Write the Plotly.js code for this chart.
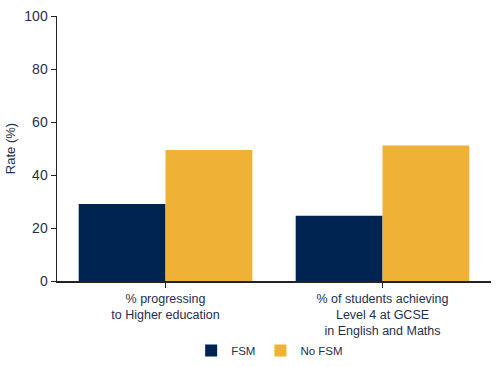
<!DOCTYPE html>
<html><head><meta charset="utf-8">
<script src="https://cdn.plot.ly/plotly-3.0.1.min.js"></script>
<style>html,body{margin:0;padding:0;background:#fff}#c{width:500px;height:367px}</style>
</head><body><div id="c"></div>
<script>
const categories = ["% progressing<br>to Higher education", "% of students achieving<br>Level 4 at GCSE<br>in English and Maths"];
const fsm = [29.1, 24.6];
const noFsm = [49.4, 51.1];
const seriesNames = ["FSM", "No FSM"];
const yTicks = [0, 20, 40, 60, 80, 100];
const txt = "#1e2f4f";
const data = [
  {type:"bar", name:seriesNames[0], x:categories, y:fsm, marker:{color:"#002452"}},
  {type:"bar", name:seriesNames[1], x:categories, y:noFsm, marker:{color:"#EFB236"}}
];
const layout = {
  width:500, height:367,
  margin:{l:57, r:9, t:16, b:86, autoexpand:false},
  paper_bgcolor:"#fff", plot_bgcolor:"#fff",
  font:{family:"Liberation Sans, Arial, sans-serif", color:txt, size:12},
  barmode:"group", bargap:0.2, bargroupgap:0,
  showlegend:true,
  legend:{orientation:"h", x:0.49, xanchor:"center", y:-0.208, yanchor:"top", font:{size:11.5, color:txt}},
  xaxis:{automargin:false, showline:true, linecolor:"#222", linewidth:1.5, ticks:"outside", ticklen:5, tickcolor:"#222",
         tickfont:{size:12.5, color:txt}, showgrid:false},
  yaxis:{automargin:false, range:[0,100], tickvals:yTicks, showline:true, linecolor:"#222", linewidth:1.5, ticks:"outside", ticklen:5,
         tickcolor:"#222", tickfont:{size:14, color:txt}, showgrid:false, zeroline:false,
         title:{text:"Rate (%)", font:{size:13, color:txt}, standoff:6}}
};
Plotly.newPlot("c", data, layout, {displayModeBar:false, staticPlot:true});
</script></body></html>
